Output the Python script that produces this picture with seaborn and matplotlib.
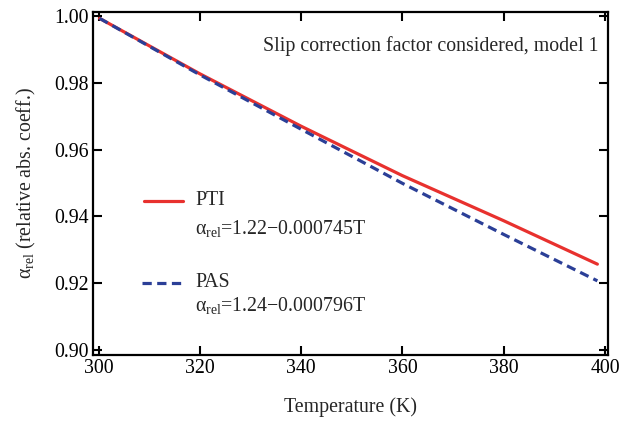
import matplotlib
matplotlib.use("Agg")
import matplotlib.pyplot as plt
import seaborn as sns
import pandas as pd
from matplotlib.lines import Line2D

# ---- data ----
temperature = [300.2, 320, 340, 360, 380, 398.5]
pti_values = [0.9993, 0.9827, 0.9670, 0.9522, 0.9387, 0.9257]
pas_values = [0.9993, 0.9824, 0.9661, 0.9499, 0.9346, 0.9207]
x_ticks = [300, 320, 340, 360, 380, 400]
y_ticks = [0.90, 0.92, 0.94, 0.96, 0.98, 1.00]

df = pd.DataFrame({"T": temperature, "PTI": pti_values, "PAS": pas_values})

sns.set_theme(style="white")
plt.rcParams["font.family"] = ["Liberation Serif", "DejaVu Serif"]
plt.rcParams["mathtext.fontset"] = "custom"
plt.rcParams["mathtext.rm"] = "Liberation Serif"
plt.rcParams["mathtext.it"] = "Liberation Serif:italic"

RED = "#e8312e"
BLUE = "#2b3f97"
DASH = (0, (2.9, 1.7))

fig = plt.figure(figsize=(6.43, 4.21), dpi=100)
ax = fig.add_axes([0.1446, 0.1568, 0.8010, 0.8147])

sns.lineplot(data=df, x="T", y="PTI", ax=ax, color=RED, lw=2.3)
sns.lineplot(data=df, x="T", y="PAS", ax=ax, color=BLUE, lw=2.3, linestyle=DASH)

ax.set_xlim(298.9, 400.6)
ax.set_ylim(0.8985, 1.0012)
ax.set_xticks(x_ticks)
ax.set_yticks(y_ticks)
ax.set_xticklabels([str(t) for t in x_ticks])
ax.set_yticklabels([f"{v:.2f}" for v in y_ticks])

ax.tick_params(direction="in", length=6.5, width=1.5, labelsize=14.3,
               top=True, right=True, bottom=True, left=True, pad=3,
               colors="black")
for s in ax.spines.values():
    s.set_visible(True)
    s.set_color("black")
    s.set_linewidth(1.6)

ax.set_xlabel("Temperature (K)", fontsize=14.3, labelpad=14)
ax.set_ylabel(r"α$_{\rm rel}$ (relative abs. coeff.)", fontsize=14.3, labelpad=12)

ax.text(0.981, 0.901, "Slip correction factor considered, model 1",
        transform=ax.transAxes, ha="right", va="center", fontsize=14.3)

# legend-like annotations
ax.add_line(Line2D([0.099, 0.175], [0.449, 0.449], transform=ax.transAxes,
                   color=RED, lw=2.3))
ax.add_line(Line2D([0.095, 0.175], [0.210, 0.210], transform=ax.transAxes,
                   color=BLUE, lw=2.3, linestyle=DASH))
ax.text(0.198, 0.449, "PTI", transform=ax.transAxes, ha="left", va="center", fontsize=14.3)
ax.text(0.198, 0.370, r"α$_{\rm rel}$=1.22−0.000745T", transform=ax.transAxes,
        ha="left", va="center", fontsize=14.3)
ax.text(0.198, 0.210, "PAS", transform=ax.transAxes, ha="left", va="center", fontsize=14.3)
ax.text(0.198, 0.143, r"α$_{\rm rel}$=1.24−0.000796T", transform=ax.transAxes,
        ha="left", va="center", fontsize=14.3)

fig.savefig("out.png", dpi=100)
